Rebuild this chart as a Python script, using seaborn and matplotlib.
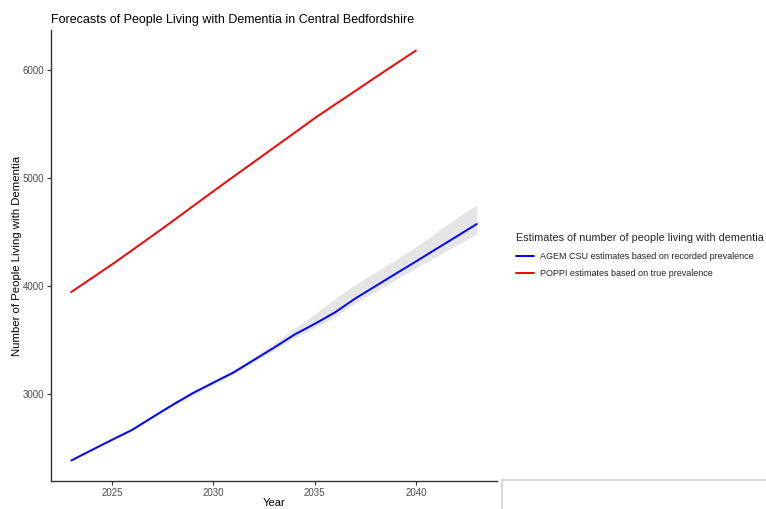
import numpy as np
import pandas as pd
import seaborn as sns
import matplotlib.pyplot as plt
import matplotlib.patches as mpatches

# data
years_agem = list(range(2023, 2044))
agem_est = [2379, 2475, 2570, 2663, 2780, 2895, 3004, 3100, 3195, 3310, 3425,
            3545, 3645, 3751, 3880, 3995, 4110, 4224, 4340, 4455, 4571]
agem_upper = [2379, 2481, 2578, 2675, 2795, 2914, 3024, 3122, 3220, 3340, 3465,
              3605, 3735, 3880, 4010, 4125, 4240, 4360, 4495, 4625, 4750]
agem_lower = [2379, 2470, 2562, 2652, 2766, 2878, 2984, 3082, 3180, 3292, 3404,
              3515, 3610, 3711, 3835, 3945, 4055, 4164, 4270, 4375, 4479]

years_poppi = list(range(2023, 2041))
poppi_est = [3941, 4068, 4195, 4328, 4462, 4598, 4736, 4874, 5010, 5145, 5280,
             5415, 5551, 5678, 5803, 5930, 6055, 6179]

series_names = ['AGEM CSU estimates based on recorded prevalence',
                'POPPI estimates based on true prevalence']
colors = ['blue', 'red']

df = pd.concat([
    pd.DataFrame({'Year': years_agem, 'Value': agem_est, 'Source': series_names[0]}),
    pd.DataFrame({'Year': years_poppi, 'Value': poppi_est, 'Source': series_names[1]}),
])

sns.set_theme(style='white')
plt.rcParams['font.family'] = ['Liberation Sans', 'DejaVu Sans']

fig = plt.figure(figsize=(7.66, 5.09), dpi=100)
ax = fig.add_axes([0.0666, 0.055, 0.5823, 0.886])

# confidence ribbon for the AGEM series
ax.fill_between(years_agem, agem_lower, agem_upper, color='#BFBFBF', alpha=0.4, linewidth=0)

sns.lineplot(data=df, x='Year', y='Value', hue='Source', palette=colors,
             linewidth=1.4, ax=ax, legend=False)

ax.set_xlim(2022, 2044)
ax.set_ylim(2189, 6369)
ax.set_xticks([2025, 2030, 2035, 2040])
ax.set_yticks([3000, 4000, 5000, 6000])
ax.tick_params(axis='both', length=3, width=0.8, color='#333333',
               labelcolor='#4D4D4D', labelsize=7, pad=2, bottom=True, left=True)
sns.despine(ax=ax)
for s in ['left', 'bottom']:
    ax.spines[s].set_color('#333333')
    ax.spines[s].set_linewidth(1.0)

ax.set_xlabel('Year', fontsize=8, color='black', labelpad=0)
ax.set_ylabel('Number of People Living with Dementia', fontsize=8.2, color='black')
ax.yaxis.set_label_coords(-0.064, 0.5)
ax.set_title('Forecasts of People Living with Dementia in Central Bedfordshire',
             loc='left', fontsize=9, color='black', pad=5)

handles = [plt.Line2D([], [], color=c, lw=1.4) for c in colors]
leg = fig.legend(handles, series_names, title='Estimates of number of people living with dementia',
                 loc='upper left', bbox_to_anchor=(0.663, 0.558), frameon=False,
                 fontsize=6.5, title_fontsize=7.8, handlelength=2.0, handletextpad=0.7,
                 labelspacing=0.95)
leg._legend_box.align = 'left'

# light grey frame peeking in at the bottom right
fig.patches.append(mpatches.Rectangle((502 / 766, -0.05), 0.4, (509 - 480) / 509 + 0.05,
                                      transform=fig.transFigure, fill=False,
                                      edgecolor='#D9D9D9', linewidth=1.5))

fig.savefig('out.png', dpi=100)
